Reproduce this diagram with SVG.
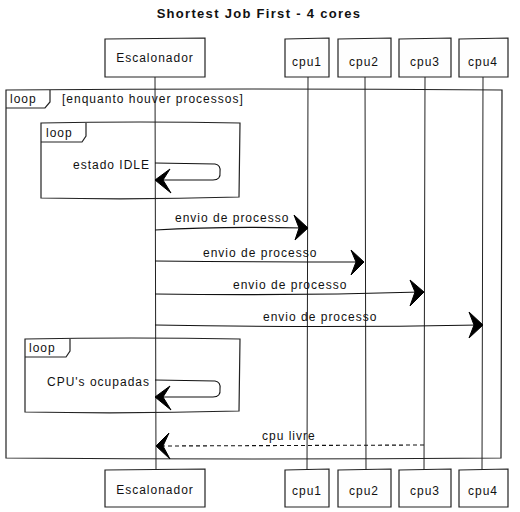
<svg xmlns="http://www.w3.org/2000/svg" width="520" height="512" viewBox="0 0 520 512">
<style>
.box{fill:#fefefe;stroke:#222;stroke-width:1.2}
.frame{fill:none;stroke:#222;stroke-width:1.2}
.life{stroke:#222;stroke-width:1;fill:none}
.msg{stroke:#111;stroke-width:1.1;fill:none}
.dash{stroke:#111;stroke-width:1.1;fill:none;stroke-dasharray:4,3}
.head{fill:#000;stroke:#000;stroke-width:1}
text{font-family:"Comic Sans MS","Liberation Sans",sans-serif;font-size:12px;fill:#111;letter-spacing:1px}
.t{font-size:13px;font-weight:bold;letter-spacing:1.3px}
</style>
<rect width="520" height="512" fill="#fff"/>
<text class="t" x="259" y="18" text-anchor="middle">Shortest Job First - 4 cores</text>
<g id="lifelines">
<path class="life" d="M155,77 L156,470"/>
<path class="life" d="M308,77 L307,470"/>
<path class="life" d="M365,77 L366,470"/>
<path class="life" d="M425,77 L424,470"/>
<path class="life" d="M483,77 L482,470"/>
</g>
<g id="loop-outer">
<path class="frame" d="M6,90 Q250,88 502,90 L501,458 Q250,460 6,458 Z"/>
<path class="frame" d="M6,108 L45,108 L50,102 L50,90"/>
<text x="10" y="103">loop</text>
<text x="62" y="103">[enquanto houver processos]</text>
</g>
<g id="loop-idle">
<path class="frame" d="M41,123 Q140,121 240,123 L239,197 Q140,200 41,198 Z"/>
<path class="frame" d="M41,142 L82,142 L86,136 L86,123"/>
<text x="46" y="137">loop</text>
<text x="150" y="169" text-anchor="end">estado IDLE</text>
</g>
<g id="loop-busy">
<path class="frame" d="M25,339 Q130,337 240,339 L239,411 Q130,414 25,412 Z"/>
<path class="frame" d="M25,357 L66,357 L70,351 L70,339"/>
<text x="29" y="352">loop</text>
<text x="150" y="386" text-anchor="end">CPU's ocupadas</text>
</g>
<g id="participants">
<g id="p-esc-top"><path class="box" d="M105,39 L205,38 L205,77 L105,77 Z"/><text x="155" y="62" text-anchor="middle">Escalonador</text></g>
<g id="p-cpu1-top"><path class="box" d="M285,39 L329,38 L329,77 L285,77 Z"/><text x="307" y="66" text-anchor="middle">cpu1</text></g>
<g id="p-cpu2-top"><path class="box" d="M338,39 L391,38 L391,77 L338,77 Z"/><text x="364" y="66" text-anchor="middle">cpu2</text></g>
<g id="p-cpu3-top"><path class="box" d="M399,39 L451,38 L451,77 L399,77 Z"/><text x="425" y="66" text-anchor="middle">cpu3</text></g>
<g id="p-cpu4-top"><path class="box" d="M459,39 L508,38 L508,77 L459,77 Z"/><text x="483" y="66" text-anchor="middle">cpu4</text></g>
<g id="p-esc-bot"><path class="box" d="M105,470 L205,469 L205,507 L105,507 Z"/><text x="155" y="494" text-anchor="middle">Escalonador</text></g>
<g id="p-cpu1-bot"><path class="box" d="M285,470 L329,469 L329,507 L285,507 Z"/><text x="307" y="495" text-anchor="middle">cpu1</text></g>
<g id="p-cpu2-bot"><path class="box" d="M338,470 L391,469 L391,507 L338,507 Z"/><text x="364" y="495" text-anchor="middle">cpu2</text></g>
<g id="p-cpu3-bot"><path class="box" d="M399,470 L451,469 L451,507 L399,507 Z"/><text x="425" y="495" text-anchor="middle">cpu3</text></g>
<g id="p-cpu4-bot"><path class="box" d="M459,470 L508,469 L508,507 L459,507 Z"/><text x="483" y="495" text-anchor="middle">cpu4</text></g>
</g>
<g id="connectors">
<path class="msg" d="M155,163 L215,164 Q221,165 220,172 Q221,180 213,180 L160,180"/>
<path class="head" d="M155,180 L170,169 L163,180 L171,193 Z"/>
<path class="msg" d="M155,230 Q220,226 304,228"/>
<path class="head" d="M308,228 L294,215 L299,228 L295,240 Z"/>
<text x="175" y="222">envio de processo</text>
<path class="msg" d="M155,261 Q260,262 361,262"/>
<path class="head" d="M364,262 L351,250 L356,262 L351,275 Z"/>
<text x="203" y="257">envio de processo</text>
<path class="msg" d="M155,294 Q290,296 421,292"/>
<path class="head" d="M424,292 L410,280 L415,292 L410,306 Z"/>
<text x="233" y="289">envio de processo</text>
<path class="msg" d="M155,325 Q320,328 479,325"/>
<path class="head" d="M483,325 L469,312 L474,325 L469,338 Z"/>
<text x="263" y="321">envio de processo</text>
<path class="msg" d="M155,380 L215,381 Q221,382 220,389 Q221,397 213,397 L160,397"/>
<path class="head" d="M155,397 L170,386 L163,397 L171,410 Z"/>
<path class="dash" d="M424,445 L162,446"/>
<path class="head" d="M156,446 L169,433 L163,446 L170,459 Z"/>
<text x="262" y="440">cpu livre</text>
</g>
</svg>
